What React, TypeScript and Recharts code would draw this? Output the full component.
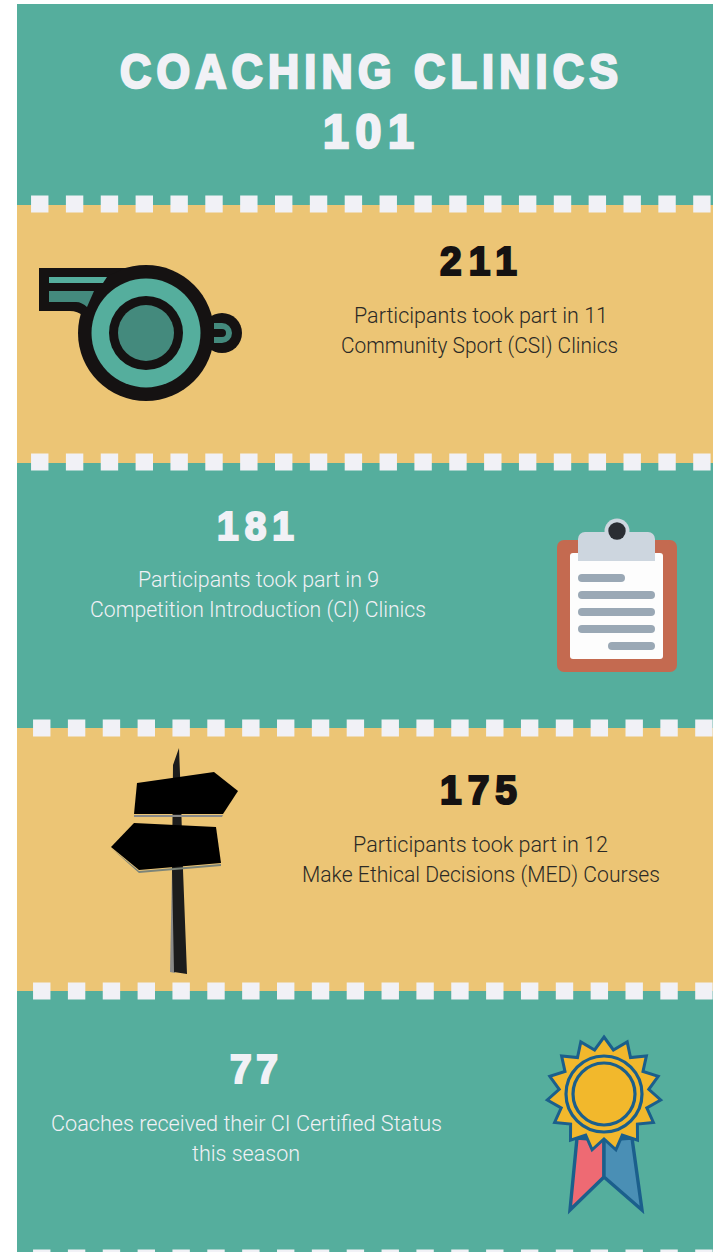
import { Bar, ComposedChart, ReferenceDot, ReferenceLine, XAxis, YAxis } from "recharts";

const TEAL = "#55ae9d";
const YELLOW = "#ecc575";
const WHITE = "#f1f1f6";
const DARK = "#151212";

// one stacked column, the panels read from top to bottom
const panelKeys = ["title", "whistle", "clipboard", "signpost", "medal"];
const panelHeights = [201, 258, 265, 263, 261];
const panelColors = [TEAL, YELLOW, TEAL, YELLOW, TEAL];
const dividers = [200, 458, 724, 987, 1254];

const titleLines = ["COACHING CLINICS", "101"];
const statValues = ["211", "181", "175", "77"];
const statFirstLines = [
  "Participants took part in 11",
  "Participants took part in 9",
  "Participants took part in 12",
  "Coaches received their CI Certified Status",
];
const statSecondLines = [
  "Community Sport (CSI) Clinics",
  "Competition Introduction (CI) Clinics",
  "Make Ethical Decisions (MED) Courses",
  "this season",
];

const row: Record<string, string | number> = { name: "infographic" };
panelKeys.forEach((k, i) => {
  row[k] = panelHeights[i];
});

// no condensed grotesque is installed, so squeeze the bold sans and fatten it with a stroke
function Heading({ x, y, w, size, fill, sx = 0.95, sw = 2.2, children }: any) {
  return (
    <text
      transform={`translate(${x} ${y}) scale(${sx} 1)`}
      textLength={w / sx}
      lengthAdjust="spacing"
      fontFamily="'Liberation Sans', sans-serif"
      fontWeight={700}
      fontSize={size}
      fill={fill}
      stroke={fill}
      strokeWidth={sw}
    >
      {children}
    </text>
  );
}

function Body({ x, y, w, fill, children }: any) {
  return (
    <text
      x={x}
      y={y}
      textLength={w}
      lengthAdjust="spacingAndGlyphs"
      fontFamily="Roboto, sans-serif"
      fontWeight={300}
      fontSize={22}
      fill={fill}
    >
      {children}
    </text>
  );
}

function Whistle() {
  return (
    <g>
      <path d="M39 268 H146 V330 H92 C88 318 80 311 70 311 H39 Z" fill={DARK} />
      <circle cx={222} cy={333} r={20} fill={DARK} />
      <path d="M214 323 H222 A10 10 0 0 1 222 343 H214 V337 H222 A4 4 0 0 0 222 329 H214 Z" fill="#448a7d" />
      <circle cx={146} cy={333} r={68} fill={DARK} />
      <path d="M49 277 H107 L103 283 H49 Z" fill={TEAL} />
      <path d="M49 291 H94 L87 307 C84 304 80 302 76 302 H49 Z" fill="#448a7d" />
      <circle cx={146} cy={333} r={54.5} fill={TEAL} />
      <circle cx={146} cy={333} r={37} fill={DARK} />
      <circle cx={146} cy={333} r={28} fill="#448a7d" />
    </g>
  );
}

function Clipboard() {
  return (
    <g>
      <rect x={557} y={540} width={120} height={132} rx={7} fill="#c46a50" />
      <rect x={570} y={553} width={93} height={106} rx={3} fill="#fdfdfd" />
      <circle cx={617} cy={531} r={12.5} fill="#cdd6df" />
      <path d="M578 561 V539 A7 7 0 0 1 585 532 H648 A7 7 0 0 1 655 539 V561 Z" fill="#cdd6df" />
      <circle cx={617} cy={531} r={8.7} fill="#2a2d33" />
      <rect x={578} y={574} width={47} height={8} rx={4} fill="#9aa8b5" />
      <rect x={578} y={591} width={77} height={8} rx={4} fill="#9aa8b5" />
      <rect x={578} y={608} width={77} height={8} rx={4} fill="#9aa8b5" />
      <rect x={578} y={625} width={77} height={8} rx={4} fill="#9aa8b5" />
      <rect x={608} y={642} width={47} height={8} rx={4} fill="#9aa8b5" />
    </g>
  );
}

function Signpost() {
  return (
    <g>
      <polygon points="172,870 170,972 175,973 176,870" fill="#8a8a88" />
      <polygon points="173,765 179,748 181,800 183,870 187,974 174,972 172,870" fill="#1c1c1c" />
      <polygon points="134,815 223,815 222,817 134,817" fill="#8a8a88" />
      <polygon points="137,783 214,772 238,791 223,814 134,814" fill="#000" />
      <polygon points="111,848 139,871 221,864 221,866 139,873" fill="#7c8478" />
      <polygon points="134,823 216,827 221,863 139,870 111,847" fill="#000" />
    </g>
  );
}

function Medal() {
  const cx = 604;
  const cy = 1094;
  const pts: string[] = [];
  for (let i = 0; i < 30; i++) {
    const r = i % 2 === 0 ? 57 : 45;
    const a = (i * 12 * Math.PI) / 180;
    pts.push(`${(cx + r * Math.sin(a)).toFixed(1)},${(cy - r * Math.cos(a)).toFixed(1)}`);
  }
  const line = "#1b5f8c";
  return (
    <g>
      <polygon points="577,1138 604,1140 604,1177 570,1210" fill="#ee6a73" stroke={line} strokeWidth={3.4} />
      <polygon points="604,1140 632,1138 642,1210 604,1177" fill="#4a8fb5" stroke={line} strokeWidth={3.4} />
      <polygon points={pts.join(" ")} fill="#f2b82c" stroke={line} strokeWidth={3} />
      <circle cx={cx} cy={cy} r={38} fill="none" stroke={line} strokeWidth={3.2} />
      <circle cx={cx} cy={cy} r={31} fill="none" stroke={line} strokeWidth={3.2} />
    </g>
  );
}

// drawn through a ReferenceDot so it sits above the bars
function Overlay() {
  return (
    <g>
      <Heading x={120} y={88} w={498} size={49} sx={0.88} sw={2.6} fill={WHITE}>{titleLines[0]}</Heading>
      <Heading x={323} y={148} w={91} size={49} sx={0.95} sw={2.6} fill={WHITE}>{titleLines[1]}</Heading>

      <Whistle />
      <Heading x={440} y={275} w={77} size={41} fill={DARK}>{statValues[0]}</Heading>
      <Body x={354} y={323} w={254} fill="#2b2a26">{statFirstLines[0]}</Body>
      <Body x={341} y={353} w={277} fill="#2b2a26">{statSecondLines[0]}</Body>

      <Clipboard />
      <Heading x={217} y={540} w={77} size={41} fill={WHITE}>{statValues[1]}</Heading>
      <Body x={138} y={587} w={241} fill={WHITE}>{statFirstLines[1]}</Body>
      <Body x={90} y={617} w={336} fill={WHITE}>{statSecondLines[1]}</Body>

      <Signpost />
      <Heading x={440} y={804} w={77} size={41} fill={DARK}>{statValues[2]}</Heading>
      <Body x={353} y={852} w={255} fill="#2b2a26">{statFirstLines[2]}</Body>
      <Body x={302} y={882} w={358} fill="#2b2a26">{statSecondLines[2]}</Body>

      <Medal />
      <Heading x={230} y={1083} w={48} size={41} fill={WHITE}>{statValues[3]}</Heading>
      <Body x={51} y={1131} w={391} fill={WHITE}>{statFirstLines[3]}</Body>
      <Body x={192} y={1161} w={108} fill={WHITE}>{statSecondLines[3]}</Body>
    </g>
  );
}

export default function App() {
  return (
    <div style={{ position: "absolute", left: 0, top: 0, width: 713, height: 1252, background: "#fff" }}>
      <ComposedChart
        width={713}
        height={1252}
        data={[row]}
        margin={{ top: 4, right: 0, bottom: 0, left: 17 }}
        barCategoryGap={0}
      >
        <XAxis dataKey="name" hide />
        <YAxis type="number" domain={[0, 1248]} reversed hide />
        {panelKeys.map((k, i) => (
          <Bar key={k} dataKey={k} stackId="panels" fill={panelColors[i]} isAnimationActive={false} />
        ))}
        {dividers.map((y, i) => (
          <ReferenceLine
            key={y}
            y={y}
            ifOverflow="visible"
            stroke={WHITE}
            strokeWidth={17}
            strokeDasharray="17.4 17.45"
            strokeDashoffset={i < 2 ? 20.8 : 18.8}
          />
        ))}
        <ReferenceDot x="infographic" y={100} ifOverflow="visible" shape={() => <Overlay />} />
      </ComposedChart>
    </div>
  );
}
